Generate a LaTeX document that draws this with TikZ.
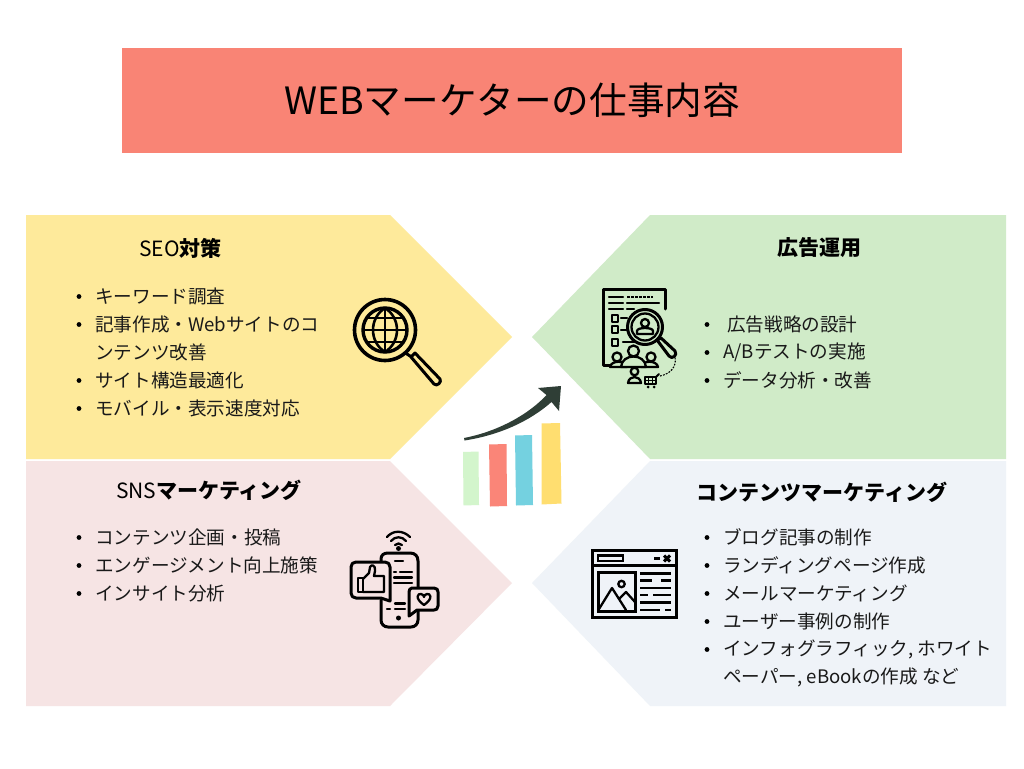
\documentclass[tikz,border=0pt]{standalone}
\usepackage{fontspec}
\setmainfont{Noto Sans CJK JP}
\definecolor{titlered}{HTML}{F98475}
\definecolor{panelyellow}{HTML}{FEEA9B}
\definecolor{panelgreen}{HTML}{D0EBC8}
\definecolor{panelpink}{HTML}{F6E4E4}
\definecolor{panelblue}{HTML}{EFF3F8}
\definecolor{arrowdark}{HTML}{2F3E36}
\definecolor{barred}{HTML}{FA8578}
\definecolor{bargreen}{HTML}{D3F5CC}
\definecolor{barblue}{HTML}{74D1E0}
\definecolor{baryellow}{HTML}{FFDE70}
\tikzset{
  x=1pt,y=-1pt,
  panel/.style={fill=#1,draw=none},
  txt/.style={anchor=west,inner sep=0pt,font=\fontsize{18.6}{22}\selectfont,text=black!90},
  head/.style={anchor=center,inner sep=0pt,font=\fontsize{21}{24}\selectfont,text=black},
  bul/.style={circle,fill=black,inner sep=0pt,minimum size=4.8pt},
  icon/.style={draw=black,line width=3pt,line cap=round,line join=round},
  iconthin/.style={draw=black,line width=2.3pt,line cap=round,line join=round},
}
\newcommand{\hbf}[1]{{\bfseries #1}}
\newcommand{\listline}[3]{\node[bul] at (#1-16,#2+0.5) {}; \node[txt] at (#1,#2+0.5) {#3};}
\begin{document}
\begin{tikzpicture}
\useasboundingbox (0,0) rectangle (1024,768);
\fill[white] (0,0) rectangle (1024,768);
% title
\node[fill=titlered,minimum width=780pt,minimum height=105pt,inner sep=0pt,font=\fontsize{37.6}{42}\selectfont,text=black] (title) at (512,100.5) {WEBマーケターの仕事内容};
% panels
\fill[panel=panelyellow] (26,215)--(390,215)--(512,337)--(390,459)--(26,459)--cycle;
\fill[panel=panelgreen] (1006,215)--(650,215)--(532,337)--(650,459)--(1006,459)--cycle;
\fill[panel=panelpink] (26,461)--(390,461)--(512,583)--(390,706)--(26,706)--cycle;
\fill[panel=panelblue] (1006,461)--(650,461)--(532,583)--(650,706)--(1006,706)--cycle;
% headings
\node[head] (h1) at (180.5,248) {SEO\hbf{対策}};
\node[head] (h2) at (819,248) {\hbf{広告運用}};
\node[head] (h3) at (209,490) {SNS\hbf{マーケティング}};
\node[head] (h4) at (822,492) {\hbf{コンテンツマーケティング}};
% lists
\listline{95}{296}{キーワード調査}
\listline{95}{324}{記事作成・Webサイトのコ}
\node[txt] at (95,352.5) {ンテンツ改善};
\listline{95}{380}{サイト構造最適化}
\listline{95}{408}{モバイル・表示速度対応}
\node[bul] at (707,324.5) {}; \node[txt] at (727,324.5) {広告戦略の設計};
\listline{723}{352}{A/Bテストの実施}
\listline{723}{380}{データ分析・改善}
\listline{95}{537}{コンテンツ企画・投稿}
\listline{95}{565}{エンゲージメント向上施策}
\listline{95}{593}{インサイト分析}
\listline{723}{537}{ブログ記事の制作}
\listline{723}{565}{ランディングページ作成}
\listline{723}{593}{メールマーケティング}
\listline{723}{621}{ユーザー事例の制作}
\listline{723}{649}{インフォグラフィック, ホワイト}
\node[txt] at (723,677.5) {ペーパー, eBookの作成 など};
% globe magnifier
\begin{scope}
\draw[icon,line width=3.6pt] (385,330) circle[radius=30.5];
\draw[icon,line width=3.4pt] (385,330) circle[radius=22];
\draw[iconthin,line width=2.6pt] (385,308)--(385,352);
\draw[iconthin,line width=2.6pt] (363,330)--(407,330);
\draw[iconthin,line width=2.6pt] (367,318)--(403,318);
\draw[iconthin,line width=2.6pt] (367,342)--(403,342);
\draw[iconthin,line width=2.6pt] (385,308) .. controls (369,318) and (369,342) .. (385,352);
\draw[iconthin,line width=2.6pt] (385,308) .. controls (401,318) and (401,342) .. (385,352);
\draw[icon] (407,354)--(413,358);
\draw[icon,fill=panelyellow] (411,357)--(415,353) -- (440,379) .. controls (442,382) and (437,387) .. (434,384) -- cycle;
\end{scope}
% research icon
\begin{scope}
\draw[icon] (610,365)--(603.5,365)--(603.5,289)--(665,289)--(665,309);
\draw[iconthin] (609,297)--(623,297);
\draw[iconthin,dash pattern=on 2.5pt off 1.5pt,line cap=butt] (627,297)--(653,297);
\draw[iconthin] (609,303)--(623,303);
\draw[iconthin] (627,303)--(659,303);
\draw[iconthin] (609,309)--(623,309);
\draw[iconthin] (627,309)--(634,309);
\draw[iconthin] (612,315) rectangle (618,322);
\draw[iconthin] (612,326) rectangle (618,333);
\draw[iconthin] (612,339) rectangle (618,346);
\draw[iconthin] (621,318)--(627,318);
\draw[iconthin] (621,330)--(627,330);
\draw[iconthin] (623,342)--(635,342);
\draw[icon,fill=panelgreen] (645,327) circle[radius=17.5];
\draw[iconthin] (645,327) circle[radius=13.5];
\draw[iconthin] (645,323) circle[radius=4];
\draw[iconthin] (637,331) .. controls (637,327) and (653,327) .. (653,331) -- (653,334) -- (637,334) -- cycle;
\draw[icon,fill=panelgreen] (657,340) -- (661,338) -- (675,351) .. controls (678,355) and (672,360) .. (669,356) -- cycle;
\draw[iconthin,fill=panelgreen] (617,357) circle[radius=4.5];
\draw[iconthin,fill=panelgreen] (651,357) circle[radius=4.5];
\draw[iconthin,fill=panelgreen] (610,367) .. controls (611,360) and (626,360) .. (627,367) -- cycle;
\draw[iconthin,fill=panelgreen] (641,367) .. controls (642,360) and (657,360) .. (658,367) -- cycle;
\draw[iconthin,fill=panelgreen] (621,367) .. controls (622,353) and (645,353) .. (646,367) -- cycle;
\draw[iconthin,fill=panelgreen] (633.5,351) circle[radius=5.5];
\draw[iconthin,fill=panelgreen] (634.5,371.5) circle[radius=3.8];
\draw[iconthin,fill=panelgreen] (628,383) .. controls (629,375) and (640,375) .. (641,383) -- cycle;
\draw[iconthin,line width=1.8pt] (645,377) rectangle (656,384);
\draw[line width=1pt] (648.5,377)--(648.5,384) (652,377)--(652,384) (645,380.5)--(656,380.5);
\draw[iconthin,line width=1.8pt] (656,377)--(659,374);
\fill (648,387) circle[radius=1.5] (654,387) circle[radius=1.5];
\draw[line width=1.1pt,dash pattern=on 1.8pt off 1.3pt] (660,376) .. controls (670,374) and (677,367) .. (675,357);
\end{scope}
% phone icon
\begin{scope}
\draw[icon] (381,561)--(381,559) .. controls (381,555) and (384,553) .. (388,553) -- (410,553) .. controls (415,553) and (418,556) .. (418,561) -- (418,589);
\draw[icon] (418,610)--(418,620) .. controls (418,624) and (415,627) .. (411,627) -- (388,627) .. controls (384,627) and (381,624) .. (381,620) -- (381,600);
\draw[iconthin] (395,561)--(403,561);
\draw[iconthin] (394,572)--(396,572);
\draw[iconthin] (400,572)--(412,572);
\draw[iconthin] (394,577.5)--(412,577.5);
\draw[iconthin] (394,583)--(412,583);
\draw[iconthin] (387,609)--(390,609);
\draw[iconthin] (395,603.5)--(405,603.5);
\draw[iconthin] (395,609)--(405,609);
\fill (398.5,618) circle[radius=2.5];
\draw[icon] (356,562)--(385,562) .. controls (388,562) and (390,564) .. (390,567) -- (390,601) -- (381,598) -- (356,598) .. controls (353,598) and (351,596) .. (351,593) -- (351,567) .. controls (351,564) and (353,562) .. (356,562) -- cycle;
\draw[iconthin] (358,578) rectangle (363,592);
\draw[iconthin] (363,579) -- (369,573) -- (370,567) .. controls (371,564) and (376,565) .. (375,571) -- (374,576) -- (384,576) -- (384,592) -- (363,592);
\draw[icon,fill=panelpink] (412,588)--(434,588) .. controls (437,588) and (438,590) .. (438,592) -- (438,606) .. controls (438,609) and (436,610) .. (434,610) -- (417,610) -- (409,616) -- (409,592) .. controls (409,590) and (410,588) .. (412,588) -- cycle;
\draw[iconthin] (424,605) .. controls (414,598) and (418,593) .. (421,594) .. controls (423,594) and (424,596) .. (424,597) .. controls (424,596) and (425,594) .. (427,594) .. controls (430,593) and (434,598) .. (424,605) -- cycle;
\draw[iconthin] (387,537) .. controls (393,530) and (403,530) .. (410,537);
\draw[iconthin] (391,541) .. controls (395,536) and (402,536) .. (406,541);
\draw[iconthin] (395,545) .. controls (397,543) and (400,543) .. (402,545);
\fill (398.5,548.5) circle[radius=2.5];
\end{scope}
% window icon
\begin{scope}
\draw[icon,line cap=butt,line join=miter] (592.5,550.5) rectangle (676.5,617);
\draw[icon,line cap=butt] (592.5,565.5)--(676.5,565.5);
\draw[iconthin,line cap=butt,line join=miter] (598,555.5) rectangle (623,561);
\draw[icon,line cap=butt] (654,558.5)--(660,558.5);
\draw[icon,line cap=butt] (664,555.5)--(670,561.5) (670,555.5)--(664,561.5);
\draw[icon,line cap=butt,line join=miter] (598.5,572.5) rectangle (635.5,611);
\draw[iconthin] (621.5,584) circle[radius=3.2];
\draw[iconthin] (599,609) -- (612,588) -- (626,610);
\draw[iconthin] (620,598) -- (626,592) -- (635,602);
\draw[iconthin,line cap=butt] (640,573.5)--(671,573.5);
\draw[iconthin,line cap=butt] (640,580.5)--(652,580.5) (661,580.5)--(671,580.5);
\draw[iconthin,line cap=butt] (640,588)--(671,588);
\draw[iconthin,line cap=butt] (640,595)--(648,595) (653,595)--(671,595);
\draw[iconthin,line cap=butt] (640,602.5)--(671,602.5);
\draw[iconthin,line cap=butt] (640,610)--(660,610) (665,610)--(671,610);
\end{scope}
% chart
\fill[bargreen] (463,452)--(478.5,451.5)--(479,505)--(463.5,505.5)--cycle;
\fill[barred] (489,444.5)--(506.5,444)--(507,506)--(490,506.5)--cycle;
\fill[barblue] (515,435.5)--(532,435)--(533,505)--(516,505.5)--cycle;
\fill[baryellow] (541.5,423.5)--(560,423)--(561.5,503.5)--(541.5,504.5)--cycle;
\fill[arrowdark] (464,438) .. controls (500,431) and (530,413) .. (546.5,395) -- (538,388) -- (561,386) -- (559,411) -- (551.5,402) .. controls (530,421) and (500,435) .. (464.5,440.5) -- cycle;
\end{tikzpicture}
\end{document}
